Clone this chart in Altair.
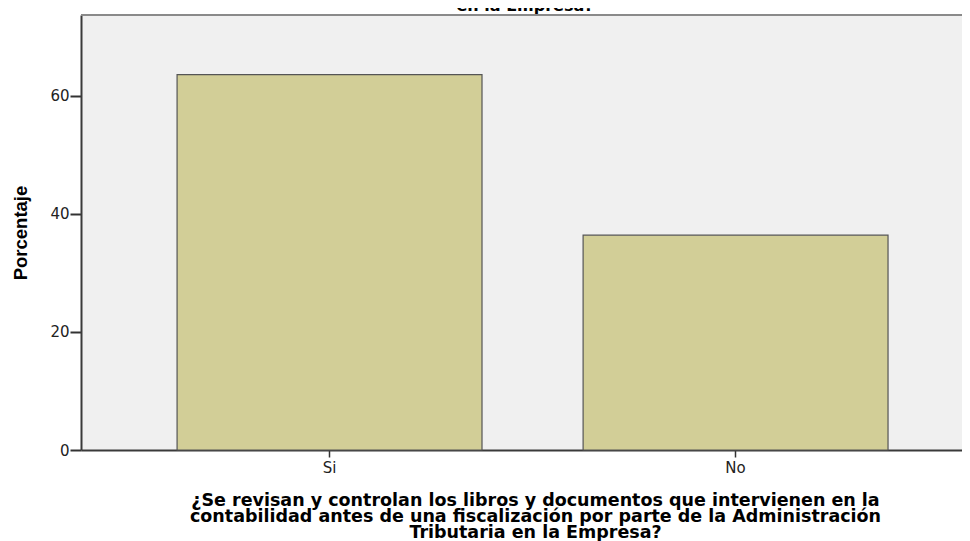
import altair as alt
import pandas as pd

categories = ["Si", "No"]
percentages = [63.6, 36.4]
y_ticks = [0, 20, 40, 60]
y_title = "Porcentaje"
x_title = [
    "¿Se revisan y controlan los libros y documentos que intervienen en la",
    "contabilidad antes de una fiscalización por parte de la Administración",
    "Tributaria en la Empresa?",
]
chart_title = [
    "¿Se revisan y controlan los libros y documentos que intervienen en la contabilidad",
    "antes de una fiscalización por parte de la Administración Tributaria",
    "en la Empresa?",
]

df = pd.DataFrame({"cat": categories, "pct": percentages})
title_df = pd.DataFrame({"k": [0]})

W, H = 881, 435

bars = alt.Chart(df).mark_bar(fill="#D2CE97", stroke="#555555", strokeWidth=1.2).encode(
    x=alt.X(
        "cat:N",
        sort=categories,
        scale=alt.Scale(paddingInner=0.249, paddingOuter=0.2094, align=0.565),
        axis=alt.Axis(
            title=x_title,
            labelAngle=0,
            labelFont="DejaVu Sans",
            labelFontSize=15,
            labelColor="#222222",
            labelPadding=3,
            tickColor="#333333",
            tickSize=7,
            tickWidth=1.5,
            domainColor="#3a3a3a",
            domainWidth=2,
            titleFont="DejaVu Sans",
            titleFontWeight="bold",
            titleFontSize=17.5,
            titleLineHeight=16,
            titleColor="#000000",
            titleX=454,
            titleY=55,
            titleAlign="center",
            titleBaseline="alphabetic",
        ),
    ),
    y=alt.Y(
        "pct:Q",
        scale=alt.Scale(domain=[0, 73.7], nice=False, zero=True),
        axis=alt.Axis(
            values=y_ticks,
            title=y_title,
            grid=False,
            labelFont="DejaVu Sans",
            labelFontSize=15,
            labelColor="#222222",
            labelPadding=1,
            tickColor="#333333",
            tickSize=11,
            tickWidth=2,
            domainColor="#3a3a3a",
            domainWidth=2,
            titleFont="Liberation Sans",
            titleFontWeight="bold",
            titleFontSize=18.5,
            titleColor="#000000",
            titleAngle=270,
            titleX=-61,
            titleY=217.5,
            titleAlign="center",
            titleBaseline="middle",
        ),
    ),
)

frame = alt.Chart(df).mark_rule(color="#8a8a8a", strokeWidth=2).encode(
    x=alt.value(0), x2=alt.value(W), y=alt.value(0)
)

top_title = alt.Chart(title_df).mark_text(
    font="DejaVu Sans",
    fontSize=16,
    fontWeight="bold",
    color="#000000",
    align="center",
    baseline="alphabetic",
    lineHeight=16.5,
).encode(x=alt.value(444), y=alt.value(-37), text=alt.value(chart_title))

chart = (
    alt.layer(bars, frame, top_title)
    .properties(
        width=W,
        height=H,
        padding={"left": 73, "top": 7, "right": 0, "bottom": 91},
        autosize=alt.AutoSizeParams(type="none"),
        background="#ffffff",
    )
    .configure_view(fill="#F0F0F0", stroke="transparent")
)

chart.save("out.html", embed_options={"renderer": "svg", "actions": False})
